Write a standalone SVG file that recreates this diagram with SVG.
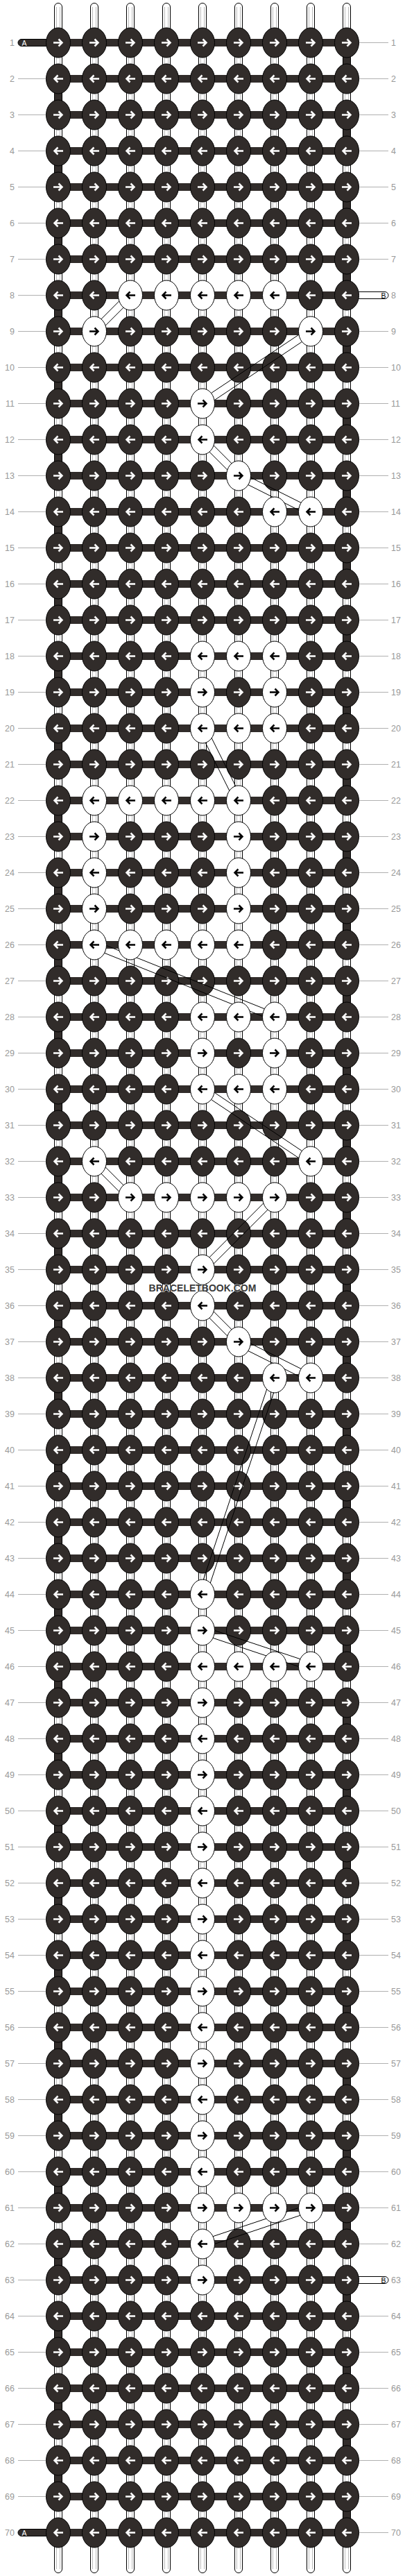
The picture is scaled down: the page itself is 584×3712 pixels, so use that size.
<svg xmlns="http://www.w3.org/2000/svg" width="584" height="3712" viewBox="0 0 584 3712">
<style>
.kd{fill:#312c2a;stroke:#000;stroke-width:1}
.kw{fill:#fff;stroke:#000;stroke-width:1}
.aw{fill:none;stroke:#fff;stroke-width:2.5}
.ab{fill:none;stroke:#000;stroke-width:2.5}
.lb{font-family:"Liberation Sans",Arial,sans-serif;font-size:12.5px;fill:#999}
.tg{font-family:"Liberation Sans",Arial,sans-serif;font-size:10.5px}
.bd{fill:none;stroke:#000;stroke-width:1}
.bs{fill:#fff;stroke:#000;stroke-width:1}
</style>
<defs>
<g id="dR"><ellipse class="kd" rx="17.5" ry="21.5"/><path class="aw" d="M-7,0H5M0.5,-5L5.5,0L0.5,5"/></g>
<g id="dL"><ellipse class="kd" rx="17.5" ry="21.5"/><path class="aw" d="M7,0H-5M-0.5,-5L-5.5,0L-0.5,5"/></g>
<g id="wR"><ellipse class="kw" rx="17.5" ry="21.5"/><path class="ab" d="M-7,0H5M0.5,-5L5.5,0L0.5,5"/></g>
<g id="wL"><ellipse class="kw" rx="17.5" ry="21.5"/><path class="ab" d="M7,0H-5M-0.5,-5L-5.5,0L-0.5,5"/></g>
</defs>
<rect width="584" height="3712" fill="#fff"/>
<g id="row-labels">
<g fill="none" stroke="#b0b0b0">
<path d="M46.25,113V3598" stroke-width="40.5" stroke-dasharray="1 51"/>
<path d="M538.75,61V374M538.75,477V3234M538.75,3337V3650" stroke-width="42.5" stroke-dasharray="1 51"/>
</g>
<g class="lb" text-anchor="end">
<text x="21" y="66">1</text><text x="21" y="118">2</text><text x="21" y="170">3</text><text x="21" y="222">4</text><text x="21" y="274">5</text><text x="21" y="326">6</text><text x="21" y="378">7</text><text x="21" y="430">8</text><text x="21" y="482">9</text><text x="21" y="534">10</text>
<text x="21" y="586">11</text><text x="21" y="638">12</text><text x="21" y="690">13</text><text x="21" y="742">14</text><text x="21" y="794">15</text><text x="21" y="846">16</text><text x="21" y="898">17</text><text x="21" y="950">18</text><text x="21" y="1002">19</text><text x="21" y="1054">20</text>
<text x="21" y="1106">21</text><text x="21" y="1158">22</text><text x="21" y="1210">23</text><text x="21" y="1262">24</text><text x="21" y="1314">25</text><text x="21" y="1366">26</text><text x="21" y="1418">27</text><text x="21" y="1470">28</text><text x="21" y="1522">29</text><text x="21" y="1574">30</text>
<text x="21" y="1626">31</text><text x="21" y="1678">32</text><text x="21" y="1730">33</text><text x="21" y="1782">34</text><text x="21" y="1834">35</text><text x="21" y="1886">36</text><text x="21" y="1938">37</text><text x="21" y="1990">38</text><text x="21" y="2042">39</text><text x="21" y="2094">40</text>
<text x="21" y="2146">41</text><text x="21" y="2198">42</text><text x="21" y="2250">43</text><text x="21" y="2302">44</text><text x="21" y="2354">45</text><text x="21" y="2406">46</text><text x="21" y="2458">47</text><text x="21" y="2510">48</text><text x="21" y="2562">49</text><text x="21" y="2614">50</text>
<text x="21" y="2666">51</text><text x="21" y="2718">52</text><text x="21" y="2770">53</text><text x="21" y="2822">54</text><text x="21" y="2874">55</text><text x="21" y="2926">56</text><text x="21" y="2978">57</text><text x="21" y="3030">58</text><text x="21" y="3082">59</text><text x="21" y="3134">60</text>
<text x="21" y="3186">61</text><text x="21" y="3238">62</text><text x="21" y="3290">63</text><text x="21" y="3342">64</text><text x="21" y="3394">65</text><text x="21" y="3446">66</text><text x="21" y="3498">67</text><text x="21" y="3550">68</text><text x="21" y="3602">69</text><text x="21" y="3654">70</text>
</g>
<g class="lb">
<text x="564" y="66">1</text><text x="564" y="118">2</text><text x="564" y="170">3</text><text x="564" y="222">4</text><text x="564" y="274">5</text><text x="564" y="326">6</text><text x="564" y="378">7</text><text x="564" y="430">8</text><text x="564" y="482">9</text><text x="564" y="534">10</text>
<text x="564" y="586">11</text><text x="564" y="638">12</text><text x="564" y="690">13</text><text x="564" y="742">14</text><text x="564" y="794">15</text><text x="564" y="846">16</text><text x="564" y="898">17</text><text x="564" y="950">18</text><text x="564" y="1002">19</text><text x="564" y="1054">20</text>
<text x="564" y="1106">21</text><text x="564" y="1158">22</text><text x="564" y="1210">23</text><text x="564" y="1262">24</text><text x="564" y="1314">25</text><text x="564" y="1366">26</text><text x="564" y="1418">27</text><text x="564" y="1470">28</text><text x="564" y="1522">29</text><text x="564" y="1574">30</text>
<text x="564" y="1626">31</text><text x="564" y="1678">32</text><text x="564" y="1730">33</text><text x="564" y="1782">34</text><text x="564" y="1834">35</text><text x="564" y="1886">36</text><text x="564" y="1938">37</text><text x="564" y="1990">38</text><text x="564" y="2042">39</text><text x="564" y="2094">40</text>
<text x="564" y="2146">41</text><text x="564" y="2198">42</text><text x="564" y="2250">43</text><text x="564" y="2302">44</text><text x="564" y="2354">45</text><text x="564" y="2406">46</text><text x="564" y="2458">47</text><text x="564" y="2510">48</text><text x="564" y="2562">49</text><text x="564" y="2614">50</text>
<text x="564" y="2666">51</text><text x="564" y="2718">52</text><text x="564" y="2770">53</text><text x="564" y="2822">54</text><text x="564" y="2874">55</text><text x="564" y="2926">56</text><text x="564" y="2978">57</text><text x="564" y="3030">58</text><text x="564" y="3082">59</text><text x="564" y="3134">60</text>
<text x="564" y="3186">61</text><text x="564" y="3238">62</text><text x="564" y="3290">63</text><text x="564" y="3342">64</text><text x="564" y="3394">65</text><text x="564" y="3446">66</text><text x="564" y="3498">67</text><text x="564" y="3550">68</text><text x="564" y="3602">69</text><text x="564" y="3654">70</text>
</g>
</g>
<g id="connectors">
<g id="base-strings">
<rect class="bs" x="78.5" y="4.5" width="11" height="3703" rx="5.5"/>
<rect class="bs" x="130.5" y="4.5" width="11" height="3703" rx="5.5"/>
<rect class="bs" x="182.5" y="4.5" width="11" height="3703" rx="5.5"/>
<rect class="bs" x="234.5" y="4.5" width="11" height="3703" rx="5.5"/>
<rect class="bs" x="286.5" y="4.5" width="11" height="3703" rx="5.5"/>
<rect class="bs" x="338.5" y="4.5" width="11" height="3703" rx="5.5"/>
<rect class="bs" x="390.5" y="4.5" width="11" height="3703" rx="5.5"/>
<rect class="bs" x="442.5" y="4.5" width="11" height="3703" rx="5.5"/>
<rect class="bs" x="494.5" y="4.5" width="11" height="3703" rx="5.5"/>
<path d="M81.5,10V3702M86.5,10V3702M133.5,10V3702M138.5,10V3702M185.5,10V3702M190.5,10V3702M237.5,10V3702M242.5,10V3702M289.5,10V3702M294.5,10V3702M341.5,10V3702M346.5,10V3702M393.5,10V3702M398.5,10V3702M445.5,10V3702M450.5,10V3702M497.5,10V3702M502.5,10V3702" fill="none" stroke="#bdbdbd" stroke-width="1"/>
</g>
<g id="string-A">
<path d="M500,61.5V3649.5M84,113.5V3597.5" fill="none" stroke="#000" stroke-width="12" stroke-dasharray="52 52"/>
<path d="M500,61.5V3649.5M84,113.5V3597.5" fill="none" stroke="#312c2a" stroke-width="10" stroke-dasharray="52 52"/>
<path d="M292,56V3655" fill="none" stroke="#312c2a" stroke-width="416" stroke-dasharray="11 41"/>
<path d="M31,56.5H86V66.5H31A5,5 0 0 1 31,56.5Z" class="kd"/>
<text x="31.5" y="65.5" class="tg" fill="#fff">A</text>
<path d="M31,3644.5H86V3654.5H31A5,5 0 0 1 31,3644.5Z" class="kd"/>
<text x="31.5" y="3653.5" class="tg" fill="#fff">A</text>
</g>
<g id="string-B-ends">
<path d="M498,420.5H555A5,5 0 0 1 555,430.5H498Z" class="kw"/>
<text x="549.5" y="429.5" class="tg" fill="#000">B</text>
<path d="M498,3280.5H555A5,5 0 0 1 555,3290.5H498Z" class="kw"/>
<text x="549.5" y="3289.5" class="tg" fill="#000">B</text>
</g>
</g>
<g id="dark-knots">
<g transform="translate(0,61.5)"><g id="n1-1"><use href="#dR" x="84"/></g><g id="n1-2"><use href="#dR" x="136"/></g><g id="n1-3"><use href="#dR" x="188"/></g><g id="n1-4"><use href="#dR" x="240"/></g><g id="n1-5"><use href="#dR" x="292"/></g><g id="n1-6"><use href="#dR" x="344"/></g><g id="n1-7"><use href="#dR" x="396"/></g><g id="n1-8"><use href="#dR" x="448"/></g><g id="n1-9"><use href="#dR" x="500"/></g></g>
<g transform="translate(0,113.5)"><g id="n2-1"><use href="#dL" x="84"/></g><g id="n2-2"><use href="#dL" x="136"/></g><g id="n2-3"><use href="#dL" x="188"/></g><g id="n2-4"><use href="#dL" x="240"/></g><g id="n2-5"><use href="#dL" x="292"/></g><g id="n2-6"><use href="#dL" x="344"/></g><g id="n2-7"><use href="#dL" x="396"/></g><g id="n2-8"><use href="#dL" x="448"/></g><g id="n2-9"><use href="#dL" x="500"/></g></g>
<g transform="translate(0,165.5)"><g id="n3-1"><use href="#dR" x="84"/></g><g id="n3-2"><use href="#dR" x="136"/></g><g id="n3-3"><use href="#dR" x="188"/></g><g id="n3-4"><use href="#dR" x="240"/></g><g id="n3-5"><use href="#dR" x="292"/></g><g id="n3-6"><use href="#dR" x="344"/></g><g id="n3-7"><use href="#dR" x="396"/></g><g id="n3-8"><use href="#dR" x="448"/></g><g id="n3-9"><use href="#dR" x="500"/></g></g>
<g transform="translate(0,217.5)"><g id="n4-1"><use href="#dL" x="84"/></g><g id="n4-2"><use href="#dL" x="136"/></g><g id="n4-3"><use href="#dL" x="188"/></g><g id="n4-4"><use href="#dL" x="240"/></g><g id="n4-5"><use href="#dL" x="292"/></g><g id="n4-6"><use href="#dL" x="344"/></g><g id="n4-7"><use href="#dL" x="396"/></g><g id="n4-8"><use href="#dL" x="448"/></g><g id="n4-9"><use href="#dL" x="500"/></g></g>
<g transform="translate(0,269.5)"><g id="n5-1"><use href="#dR" x="84"/></g><g id="n5-2"><use href="#dR" x="136"/></g><g id="n5-3"><use href="#dR" x="188"/></g><g id="n5-4"><use href="#dR" x="240"/></g><g id="n5-5"><use href="#dR" x="292"/></g><g id="n5-6"><use href="#dR" x="344"/></g><g id="n5-7"><use href="#dR" x="396"/></g><g id="n5-8"><use href="#dR" x="448"/></g><g id="n5-9"><use href="#dR" x="500"/></g></g>
<g transform="translate(0,321.5)"><g id="n6-1"><use href="#dL" x="84"/></g><g id="n6-2"><use href="#dL" x="136"/></g><g id="n6-3"><use href="#dL" x="188"/></g><g id="n6-4"><use href="#dL" x="240"/></g><g id="n6-5"><use href="#dL" x="292"/></g><g id="n6-6"><use href="#dL" x="344"/></g><g id="n6-7"><use href="#dL" x="396"/></g><g id="n6-8"><use href="#dL" x="448"/></g><g id="n6-9"><use href="#dL" x="500"/></g></g>
<g transform="translate(0,373.5)"><g id="n7-1"><use href="#dR" x="84"/></g><g id="n7-2"><use href="#dR" x="136"/></g><g id="n7-3"><use href="#dR" x="188"/></g><g id="n7-4"><use href="#dR" x="240"/></g><g id="n7-5"><use href="#dR" x="292"/></g><g id="n7-6"><use href="#dR" x="344"/></g><g id="n7-7"><use href="#dR" x="396"/></g><g id="n7-8"><use href="#dR" x="448"/></g><g id="n7-9"><use href="#dR" x="500"/></g></g>
<g transform="translate(0,425.5)"><g id="n8-1"><use href="#dL" x="84"/></g><g id="n8-2"><use href="#dL" x="136"/></g><g id="n8-8"><use href="#dL" x="448"/></g><g id="n8-9"><use href="#dL" x="500"/></g></g>
<g transform="translate(0,477.5)"><g id="n9-1"><use href="#dR" x="84"/></g><g id="n9-3"><use href="#dR" x="188"/></g><g id="n9-4"><use href="#dR" x="240"/></g><g id="n9-5"><use href="#dR" x="292"/></g><g id="n9-6"><use href="#dR" x="344"/></g><g id="n9-7"><use href="#dR" x="396"/></g><g id="n9-9"><use href="#dR" x="500"/></g></g>
<g transform="translate(0,529.5)"><g id="n10-1"><use href="#dL" x="84"/></g><g id="n10-2"><use href="#dL" x="136"/></g><g id="n10-3"><use href="#dL" x="188"/></g><g id="n10-4"><use href="#dL" x="240"/></g><g id="n10-5"><use href="#dL" x="292"/></g><g id="n10-6"><use href="#dL" x="344"/></g><g id="n10-7"><use href="#dL" x="396"/></g><g id="n10-8"><use href="#dL" x="448"/></g><g id="n10-9"><use href="#dL" x="500"/></g></g>
<g transform="translate(0,581.5)"><g id="n11-1"><use href="#dR" x="84"/></g><g id="n11-2"><use href="#dR" x="136"/></g><g id="n11-3"><use href="#dR" x="188"/></g><g id="n11-4"><use href="#dR" x="240"/></g><g id="n11-6"><use href="#dR" x="344"/></g><g id="n11-7"><use href="#dR" x="396"/></g><g id="n11-8"><use href="#dR" x="448"/></g><g id="n11-9"><use href="#dR" x="500"/></g></g>
<g transform="translate(0,633.5)"><g id="n12-1"><use href="#dL" x="84"/></g><g id="n12-2"><use href="#dL" x="136"/></g><g id="n12-3"><use href="#dL" x="188"/></g><g id="n12-4"><use href="#dL" x="240"/></g><g id="n12-6"><use href="#dL" x="344"/></g><g id="n12-7"><use href="#dL" x="396"/></g><g id="n12-8"><use href="#dL" x="448"/></g><g id="n12-9"><use href="#dL" x="500"/></g></g>
<g transform="translate(0,685.5)"><g id="n13-1"><use href="#dR" x="84"/></g><g id="n13-2"><use href="#dR" x="136"/></g><g id="n13-3"><use href="#dR" x="188"/></g><g id="n13-4"><use href="#dR" x="240"/></g><g id="n13-5"><use href="#dR" x="292"/></g><g id="n13-7"><use href="#dR" x="396"/></g><g id="n13-8"><use href="#dR" x="448"/></g><g id="n13-9"><use href="#dR" x="500"/></g></g>
<g transform="translate(0,737.5)"><g id="n14-1"><use href="#dL" x="84"/></g><g id="n14-2"><use href="#dL" x="136"/></g><g id="n14-3"><use href="#dL" x="188"/></g><g id="n14-4"><use href="#dL" x="240"/></g><g id="n14-5"><use href="#dL" x="292"/></g><g id="n14-6"><use href="#dL" x="344"/></g><g id="n14-9"><use href="#dL" x="500"/></g></g>
<g transform="translate(0,789.5)"><g id="n15-1"><use href="#dR" x="84"/></g><g id="n15-2"><use href="#dR" x="136"/></g><g id="n15-3"><use href="#dR" x="188"/></g><g id="n15-4"><use href="#dR" x="240"/></g><g id="n15-5"><use href="#dR" x="292"/></g><g id="n15-6"><use href="#dR" x="344"/></g><g id="n15-7"><use href="#dR" x="396"/></g><g id="n15-8"><use href="#dR" x="448"/></g><g id="n15-9"><use href="#dR" x="500"/></g></g>
<g transform="translate(0,841.5)"><g id="n16-1"><use href="#dL" x="84"/></g><g id="n16-2"><use href="#dL" x="136"/></g><g id="n16-3"><use href="#dL" x="188"/></g><g id="n16-4"><use href="#dL" x="240"/></g><g id="n16-5"><use href="#dL" x="292"/></g><g id="n16-6"><use href="#dL" x="344"/></g><g id="n16-7"><use href="#dL" x="396"/></g><g id="n16-8"><use href="#dL" x="448"/></g><g id="n16-9"><use href="#dL" x="500"/></g></g>
<g transform="translate(0,893.5)"><g id="n17-1"><use href="#dR" x="84"/></g><g id="n17-2"><use href="#dR" x="136"/></g><g id="n17-3"><use href="#dR" x="188"/></g><g id="n17-4"><use href="#dR" x="240"/></g><g id="n17-5"><use href="#dR" x="292"/></g><g id="n17-6"><use href="#dR" x="344"/></g><g id="n17-7"><use href="#dR" x="396"/></g><g id="n17-8"><use href="#dR" x="448"/></g><g id="n17-9"><use href="#dR" x="500"/></g></g>
<g transform="translate(0,945.5)"><g id="n18-1"><use href="#dL" x="84"/></g><g id="n18-2"><use href="#dL" x="136"/></g><g id="n18-3"><use href="#dL" x="188"/></g><g id="n18-4"><use href="#dL" x="240"/></g><g id="n18-8"><use href="#dL" x="448"/></g><g id="n18-9"><use href="#dL" x="500"/></g></g>
<g transform="translate(0,997.5)"><g id="n19-1"><use href="#dR" x="84"/></g><g id="n19-2"><use href="#dR" x="136"/></g><g id="n19-3"><use href="#dR" x="188"/></g><g id="n19-4"><use href="#dR" x="240"/></g><g id="n19-6"><use href="#dR" x="344"/></g><g id="n19-8"><use href="#dR" x="448"/></g><g id="n19-9"><use href="#dR" x="500"/></g></g>
<g transform="translate(0,1049.5)"><g id="n20-1"><use href="#dL" x="84"/></g><g id="n20-2"><use href="#dL" x="136"/></g><g id="n20-3"><use href="#dL" x="188"/></g><g id="n20-4"><use href="#dL" x="240"/></g><g id="n20-8"><use href="#dL" x="448"/></g><g id="n20-9"><use href="#dL" x="500"/></g></g>
<g transform="translate(0,1101.5)"><g id="n21-1"><use href="#dR" x="84"/></g><g id="n21-2"><use href="#dR" x="136"/></g><g id="n21-3"><use href="#dR" x="188"/></g><g id="n21-4"><use href="#dR" x="240"/></g><g id="n21-5"><use href="#dR" x="292"/></g><g id="n21-6"><use href="#dR" x="344"/></g><g id="n21-7"><use href="#dR" x="396"/></g><g id="n21-8"><use href="#dR" x="448"/></g><g id="n21-9"><use href="#dR" x="500"/></g></g>
<g transform="translate(0,1153.5)"><g id="n22-1"><use href="#dL" x="84"/></g><g id="n22-7"><use href="#dL" x="396"/></g><g id="n22-8"><use href="#dL" x="448"/></g><g id="n22-9"><use href="#dL" x="500"/></g></g>
<g transform="translate(0,1205.5)"><g id="n23-1"><use href="#dR" x="84"/></g><g id="n23-3"><use href="#dR" x="188"/></g><g id="n23-4"><use href="#dR" x="240"/></g><g id="n23-5"><use href="#dR" x="292"/></g><g id="n23-7"><use href="#dR" x="396"/></g><g id="n23-8"><use href="#dR" x="448"/></g><g id="n23-9"><use href="#dR" x="500"/></g></g>
<g transform="translate(0,1257.5)"><g id="n24-1"><use href="#dL" x="84"/></g><g id="n24-3"><use href="#dL" x="188"/></g><g id="n24-4"><use href="#dL" x="240"/></g><g id="n24-5"><use href="#dL" x="292"/></g><g id="n24-7"><use href="#dL" x="396"/></g><g id="n24-8"><use href="#dL" x="448"/></g><g id="n24-9"><use href="#dL" x="500"/></g></g>
<g transform="translate(0,1309.5)"><g id="n25-1"><use href="#dR" x="84"/></g><g id="n25-3"><use href="#dR" x="188"/></g><g id="n25-4"><use href="#dR" x="240"/></g><g id="n25-5"><use href="#dR" x="292"/></g><g id="n25-7"><use href="#dR" x="396"/></g><g id="n25-8"><use href="#dR" x="448"/></g><g id="n25-9"><use href="#dR" x="500"/></g></g>
<g transform="translate(0,1361.5)"><g id="n26-1"><use href="#dL" x="84"/></g><g id="n26-7"><use href="#dL" x="396"/></g><g id="n26-8"><use href="#dL" x="448"/></g><g id="n26-9"><use href="#dL" x="500"/></g></g>
<g transform="translate(0,1413.5)"><g id="n27-1"><use href="#dR" x="84"/></g><g id="n27-2"><use href="#dR" x="136"/></g><g id="n27-3"><use href="#dR" x="188"/></g><g id="n27-4"><use href="#dR" x="240"/></g><g id="n27-5"><use href="#dR" x="292"/></g><g id="n27-6"><use href="#dR" x="344"/></g><g id="n27-7"><use href="#dR" x="396"/></g><g id="n27-8"><use href="#dR" x="448"/></g><g id="n27-9"><use href="#dR" x="500"/></g></g>
<g transform="translate(0,1465.5)"><g id="n28-1"><use href="#dL" x="84"/></g><g id="n28-2"><use href="#dL" x="136"/></g><g id="n28-3"><use href="#dL" x="188"/></g><g id="n28-4"><use href="#dL" x="240"/></g><g id="n28-8"><use href="#dL" x="448"/></g><g id="n28-9"><use href="#dL" x="500"/></g></g>
<g transform="translate(0,1517.5)"><g id="n29-1"><use href="#dR" x="84"/></g><g id="n29-2"><use href="#dR" x="136"/></g><g id="n29-3"><use href="#dR" x="188"/></g><g id="n29-4"><use href="#dR" x="240"/></g><g id="n29-6"><use href="#dR" x="344"/></g><g id="n29-8"><use href="#dR" x="448"/></g><g id="n29-9"><use href="#dR" x="500"/></g></g>
<g transform="translate(0,1569.5)"><g id="n30-1"><use href="#dL" x="84"/></g><g id="n30-2"><use href="#dL" x="136"/></g><g id="n30-3"><use href="#dL" x="188"/></g><g id="n30-4"><use href="#dL" x="240"/></g><g id="n30-8"><use href="#dL" x="448"/></g><g id="n30-9"><use href="#dL" x="500"/></g></g>
<g transform="translate(0,1621.5)"><g id="n31-1"><use href="#dR" x="84"/></g><g id="n31-2"><use href="#dR" x="136"/></g><g id="n31-3"><use href="#dR" x="188"/></g><g id="n31-4"><use href="#dR" x="240"/></g><g id="n31-5"><use href="#dR" x="292"/></g><g id="n31-6"><use href="#dR" x="344"/></g><g id="n31-7"><use href="#dR" x="396"/></g><g id="n31-8"><use href="#dR" x="448"/></g><g id="n31-9"><use href="#dR" x="500"/></g></g>
<g transform="translate(0,1673.5)"><g id="n32-1"><use href="#dL" x="84"/></g><g id="n32-3"><use href="#dL" x="188"/></g><g id="n32-4"><use href="#dL" x="240"/></g><g id="n32-5"><use href="#dL" x="292"/></g><g id="n32-6"><use href="#dL" x="344"/></g><g id="n32-7"><use href="#dL" x="396"/></g><g id="n32-9"><use href="#dL" x="500"/></g></g>
<g transform="translate(0,1725.5)"><g id="n33-1"><use href="#dR" x="84"/></g><g id="n33-2"><use href="#dR" x="136"/></g><g id="n33-8"><use href="#dR" x="448"/></g><g id="n33-9"><use href="#dR" x="500"/></g></g>
<g transform="translate(0,1777.5)"><g id="n34-1"><use href="#dL" x="84"/></g><g id="n34-2"><use href="#dL" x="136"/></g><g id="n34-3"><use href="#dL" x="188"/></g><g id="n34-4"><use href="#dL" x="240"/></g><g id="n34-5"><use href="#dL" x="292"/></g><g id="n34-6"><use href="#dL" x="344"/></g><g id="n34-7"><use href="#dL" x="396"/></g><g id="n34-8"><use href="#dL" x="448"/></g><g id="n34-9"><use href="#dL" x="500"/></g></g>
<g transform="translate(0,1829.5)"><g id="n35-1"><use href="#dR" x="84"/></g><g id="n35-2"><use href="#dR" x="136"/></g><g id="n35-3"><use href="#dR" x="188"/></g><g id="n35-4"><use href="#dR" x="240"/></g><g id="n35-6"><use href="#dR" x="344"/></g><g id="n35-7"><use href="#dR" x="396"/></g><g id="n35-8"><use href="#dR" x="448"/></g><g id="n35-9"><use href="#dR" x="500"/></g></g>
<g transform="translate(0,1881.5)"><g id="n36-1"><use href="#dL" x="84"/></g><g id="n36-2"><use href="#dL" x="136"/></g><g id="n36-3"><use href="#dL" x="188"/></g><g id="n36-4"><use href="#dL" x="240"/></g><g id="n36-6"><use href="#dL" x="344"/></g><g id="n36-7"><use href="#dL" x="396"/></g><g id="n36-8"><use href="#dL" x="448"/></g><g id="n36-9"><use href="#dL" x="500"/></g></g>
<g transform="translate(0,1933.5)"><g id="n37-1"><use href="#dR" x="84"/></g><g id="n37-2"><use href="#dR" x="136"/></g><g id="n37-3"><use href="#dR" x="188"/></g><g id="n37-4"><use href="#dR" x="240"/></g><g id="n37-5"><use href="#dR" x="292"/></g><g id="n37-7"><use href="#dR" x="396"/></g><g id="n37-8"><use href="#dR" x="448"/></g><g id="n37-9"><use href="#dR" x="500"/></g></g>
<g transform="translate(0,1985.5)"><g id="n38-1"><use href="#dL" x="84"/></g><g id="n38-2"><use href="#dL" x="136"/></g><g id="n38-3"><use href="#dL" x="188"/></g><g id="n38-4"><use href="#dL" x="240"/></g><g id="n38-5"><use href="#dL" x="292"/></g><g id="n38-6"><use href="#dL" x="344"/></g><g id="n38-9"><use href="#dL" x="500"/></g></g>
<g transform="translate(0,2037.5)"><g id="n39-1"><use href="#dR" x="84"/></g><g id="n39-2"><use href="#dR" x="136"/></g><g id="n39-3"><use href="#dR" x="188"/></g><g id="n39-4"><use href="#dR" x="240"/></g><g id="n39-5"><use href="#dR" x="292"/></g><g id="n39-6"><use href="#dR" x="344"/></g><g id="n39-7"><use href="#dR" x="396"/></g><g id="n39-8"><use href="#dR" x="448"/></g><g id="n39-9"><use href="#dR" x="500"/></g></g>
<g transform="translate(0,2089.5)"><g id="n40-1"><use href="#dL" x="84"/></g><g id="n40-2"><use href="#dL" x="136"/></g><g id="n40-3"><use href="#dL" x="188"/></g><g id="n40-4"><use href="#dL" x="240"/></g><g id="n40-5"><use href="#dL" x="292"/></g><g id="n40-6"><use href="#dL" x="344"/></g><g id="n40-7"><use href="#dL" x="396"/></g><g id="n40-8"><use href="#dL" x="448"/></g><g id="n40-9"><use href="#dL" x="500"/></g></g>
<g transform="translate(0,2141.5)"><g id="n41-1"><use href="#dR" x="84"/></g><g id="n41-2"><use href="#dR" x="136"/></g><g id="n41-3"><use href="#dR" x="188"/></g><g id="n41-4"><use href="#dR" x="240"/></g><g id="n41-5"><use href="#dR" x="292"/></g><g id="n41-6"><use href="#dR" x="344"/></g><g id="n41-7"><use href="#dR" x="396"/></g><g id="n41-8"><use href="#dR" x="448"/></g><g id="n41-9"><use href="#dR" x="500"/></g></g>
<g transform="translate(0,2193.5)"><g id="n42-1"><use href="#dL" x="84"/></g><g id="n42-2"><use href="#dL" x="136"/></g><g id="n42-3"><use href="#dL" x="188"/></g><g id="n42-4"><use href="#dL" x="240"/></g><g id="n42-5"><use href="#dL" x="292"/></g><g id="n42-6"><use href="#dL" x="344"/></g><g id="n42-7"><use href="#dL" x="396"/></g><g id="n42-8"><use href="#dL" x="448"/></g><g id="n42-9"><use href="#dL" x="500"/></g></g>
<g transform="translate(0,2245.5)"><g id="n43-1"><use href="#dR" x="84"/></g><g id="n43-2"><use href="#dR" x="136"/></g><g id="n43-3"><use href="#dR" x="188"/></g><g id="n43-4"><use href="#dR" x="240"/></g><g id="n43-5"><use href="#dR" x="292"/></g><g id="n43-6"><use href="#dR" x="344"/></g><g id="n43-7"><use href="#dR" x="396"/></g><g id="n43-8"><use href="#dR" x="448"/></g><g id="n43-9"><use href="#dR" x="500"/></g></g>
<g transform="translate(0,2297.5)"><g id="n44-1"><use href="#dL" x="84"/></g><g id="n44-2"><use href="#dL" x="136"/></g><g id="n44-3"><use href="#dL" x="188"/></g><g id="n44-4"><use href="#dL" x="240"/></g><g id="n44-6"><use href="#dL" x="344"/></g><g id="n44-7"><use href="#dL" x="396"/></g><g id="n44-8"><use href="#dL" x="448"/></g><g id="n44-9"><use href="#dL" x="500"/></g></g>
<g transform="translate(0,2349.5)"><g id="n45-1"><use href="#dR" x="84"/></g><g id="n45-2"><use href="#dR" x="136"/></g><g id="n45-3"><use href="#dR" x="188"/></g><g id="n45-4"><use href="#dR" x="240"/></g><g id="n45-6"><use href="#dR" x="344"/></g><g id="n45-7"><use href="#dR" x="396"/></g><g id="n45-8"><use href="#dR" x="448"/></g><g id="n45-9"><use href="#dR" x="500"/></g></g>
<g transform="translate(0,2401.5)"><g id="n46-1"><use href="#dL" x="84"/></g><g id="n46-2"><use href="#dL" x="136"/></g><g id="n46-3"><use href="#dL" x="188"/></g><g id="n46-4"><use href="#dL" x="240"/></g><g id="n46-9"><use href="#dL" x="500"/></g></g>
<g transform="translate(0,2453.5)"><g id="n47-1"><use href="#dR" x="84"/></g><g id="n47-2"><use href="#dR" x="136"/></g><g id="n47-3"><use href="#dR" x="188"/></g><g id="n47-4"><use href="#dR" x="240"/></g><g id="n47-6"><use href="#dR" x="344"/></g><g id="n47-7"><use href="#dR" x="396"/></g><g id="n47-8"><use href="#dR" x="448"/></g><g id="n47-9"><use href="#dR" x="500"/></g></g>
<g transform="translate(0,2505.5)"><g id="n48-1"><use href="#dL" x="84"/></g><g id="n48-2"><use href="#dL" x="136"/></g><g id="n48-3"><use href="#dL" x="188"/></g><g id="n48-4"><use href="#dL" x="240"/></g><g id="n48-6"><use href="#dL" x="344"/></g><g id="n48-7"><use href="#dL" x="396"/></g><g id="n48-8"><use href="#dL" x="448"/></g><g id="n48-9"><use href="#dL" x="500"/></g></g>
<g transform="translate(0,2557.5)"><g id="n49-1"><use href="#dR" x="84"/></g><g id="n49-2"><use href="#dR" x="136"/></g><g id="n49-3"><use href="#dR" x="188"/></g><g id="n49-4"><use href="#dR" x="240"/></g><g id="n49-6"><use href="#dR" x="344"/></g><g id="n49-7"><use href="#dR" x="396"/></g><g id="n49-8"><use href="#dR" x="448"/></g><g id="n49-9"><use href="#dR" x="500"/></g></g>
<g transform="translate(0,2609.5)"><g id="n50-1"><use href="#dL" x="84"/></g><g id="n50-2"><use href="#dL" x="136"/></g><g id="n50-3"><use href="#dL" x="188"/></g><g id="n50-4"><use href="#dL" x="240"/></g><g id="n50-6"><use href="#dL" x="344"/></g><g id="n50-7"><use href="#dL" x="396"/></g><g id="n50-8"><use href="#dL" x="448"/></g><g id="n50-9"><use href="#dL" x="500"/></g></g>
<g transform="translate(0,2661.5)"><g id="n51-1"><use href="#dR" x="84"/></g><g id="n51-2"><use href="#dR" x="136"/></g><g id="n51-3"><use href="#dR" x="188"/></g><g id="n51-4"><use href="#dR" x="240"/></g><g id="n51-6"><use href="#dR" x="344"/></g><g id="n51-7"><use href="#dR" x="396"/></g><g id="n51-8"><use href="#dR" x="448"/></g><g id="n51-9"><use href="#dR" x="500"/></g></g>
<g transform="translate(0,2713.5)"><g id="n52-1"><use href="#dL" x="84"/></g><g id="n52-2"><use href="#dL" x="136"/></g><g id="n52-3"><use href="#dL" x="188"/></g><g id="n52-4"><use href="#dL" x="240"/></g><g id="n52-6"><use href="#dL" x="344"/></g><g id="n52-7"><use href="#dL" x="396"/></g><g id="n52-8"><use href="#dL" x="448"/></g><g id="n52-9"><use href="#dL" x="500"/></g></g>
<g transform="translate(0,2765.5)"><g id="n53-1"><use href="#dR" x="84"/></g><g id="n53-2"><use href="#dR" x="136"/></g><g id="n53-3"><use href="#dR" x="188"/></g><g id="n53-4"><use href="#dR" x="240"/></g><g id="n53-6"><use href="#dR" x="344"/></g><g id="n53-7"><use href="#dR" x="396"/></g><g id="n53-8"><use href="#dR" x="448"/></g><g id="n53-9"><use href="#dR" x="500"/></g></g>
<g transform="translate(0,2817.5)"><g id="n54-1"><use href="#dL" x="84"/></g><g id="n54-2"><use href="#dL" x="136"/></g><g id="n54-3"><use href="#dL" x="188"/></g><g id="n54-4"><use href="#dL" x="240"/></g><g id="n54-6"><use href="#dL" x="344"/></g><g id="n54-7"><use href="#dL" x="396"/></g><g id="n54-8"><use href="#dL" x="448"/></g><g id="n54-9"><use href="#dL" x="500"/></g></g>
<g transform="translate(0,2869.5)"><g id="n55-1"><use href="#dR" x="84"/></g><g id="n55-2"><use href="#dR" x="136"/></g><g id="n55-3"><use href="#dR" x="188"/></g><g id="n55-4"><use href="#dR" x="240"/></g><g id="n55-6"><use href="#dR" x="344"/></g><g id="n55-7"><use href="#dR" x="396"/></g><g id="n55-8"><use href="#dR" x="448"/></g><g id="n55-9"><use href="#dR" x="500"/></g></g>
<g transform="translate(0,2921.5)"><g id="n56-1"><use href="#dL" x="84"/></g><g id="n56-2"><use href="#dL" x="136"/></g><g id="n56-3"><use href="#dL" x="188"/></g><g id="n56-4"><use href="#dL" x="240"/></g><g id="n56-6"><use href="#dL" x="344"/></g><g id="n56-7"><use href="#dL" x="396"/></g><g id="n56-8"><use href="#dL" x="448"/></g><g id="n56-9"><use href="#dL" x="500"/></g></g>
<g transform="translate(0,2973.5)"><g id="n57-1"><use href="#dR" x="84"/></g><g id="n57-2"><use href="#dR" x="136"/></g><g id="n57-3"><use href="#dR" x="188"/></g><g id="n57-4"><use href="#dR" x="240"/></g><g id="n57-6"><use href="#dR" x="344"/></g><g id="n57-7"><use href="#dR" x="396"/></g><g id="n57-8"><use href="#dR" x="448"/></g><g id="n57-9"><use href="#dR" x="500"/></g></g>
<g transform="translate(0,3025.5)"><g id="n58-1"><use href="#dL" x="84"/></g><g id="n58-2"><use href="#dL" x="136"/></g><g id="n58-3"><use href="#dL" x="188"/></g><g id="n58-4"><use href="#dL" x="240"/></g><g id="n58-6"><use href="#dL" x="344"/></g><g id="n58-7"><use href="#dL" x="396"/></g><g id="n58-8"><use href="#dL" x="448"/></g><g id="n58-9"><use href="#dL" x="500"/></g></g>
<g transform="translate(0,3077.5)"><g id="n59-1"><use href="#dR" x="84"/></g><g id="n59-2"><use href="#dR" x="136"/></g><g id="n59-3"><use href="#dR" x="188"/></g><g id="n59-4"><use href="#dR" x="240"/></g><g id="n59-6"><use href="#dR" x="344"/></g><g id="n59-7"><use href="#dR" x="396"/></g><g id="n59-8"><use href="#dR" x="448"/></g><g id="n59-9"><use href="#dR" x="500"/></g></g>
<g transform="translate(0,3129.5)"><g id="n60-1"><use href="#dL" x="84"/></g><g id="n60-2"><use href="#dL" x="136"/></g><g id="n60-3"><use href="#dL" x="188"/></g><g id="n60-4"><use href="#dL" x="240"/></g><g id="n60-6"><use href="#dL" x="344"/></g><g id="n60-7"><use href="#dL" x="396"/></g><g id="n60-8"><use href="#dL" x="448"/></g><g id="n60-9"><use href="#dL" x="500"/></g></g>
<g transform="translate(0,3181.5)"><g id="n61-1"><use href="#dR" x="84"/></g><g id="n61-2"><use href="#dR" x="136"/></g><g id="n61-3"><use href="#dR" x="188"/></g><g id="n61-4"><use href="#dR" x="240"/></g><g id="n61-9"><use href="#dR" x="500"/></g></g>
<g transform="translate(0,3233.5)"><g id="n62-1"><use href="#dL" x="84"/></g><g id="n62-2"><use href="#dL" x="136"/></g><g id="n62-3"><use href="#dL" x="188"/></g><g id="n62-4"><use href="#dL" x="240"/></g><g id="n62-6"><use href="#dL" x="344"/></g><g id="n62-7"><use href="#dL" x="396"/></g><g id="n62-8"><use href="#dL" x="448"/></g><g id="n62-9"><use href="#dL" x="500"/></g></g>
<g transform="translate(0,3285.5)"><g id="n63-1"><use href="#dR" x="84"/></g><g id="n63-2"><use href="#dR" x="136"/></g><g id="n63-3"><use href="#dR" x="188"/></g><g id="n63-4"><use href="#dR" x="240"/></g><g id="n63-6"><use href="#dR" x="344"/></g><g id="n63-7"><use href="#dR" x="396"/></g><g id="n63-8"><use href="#dR" x="448"/></g><g id="n63-9"><use href="#dR" x="500"/></g></g>
<g transform="translate(0,3337.5)"><g id="n64-1"><use href="#dL" x="84"/></g><g id="n64-2"><use href="#dL" x="136"/></g><g id="n64-3"><use href="#dL" x="188"/></g><g id="n64-4"><use href="#dL" x="240"/></g><g id="n64-5"><use href="#dL" x="292"/></g><g id="n64-6"><use href="#dL" x="344"/></g><g id="n64-7"><use href="#dL" x="396"/></g><g id="n64-8"><use href="#dL" x="448"/></g><g id="n64-9"><use href="#dL" x="500"/></g></g>
<g transform="translate(0,3389.5)"><g id="n65-1"><use href="#dR" x="84"/></g><g id="n65-2"><use href="#dR" x="136"/></g><g id="n65-3"><use href="#dR" x="188"/></g><g id="n65-4"><use href="#dR" x="240"/></g><g id="n65-5"><use href="#dR" x="292"/></g><g id="n65-6"><use href="#dR" x="344"/></g><g id="n65-7"><use href="#dR" x="396"/></g><g id="n65-8"><use href="#dR" x="448"/></g><g id="n65-9"><use href="#dR" x="500"/></g></g>
<g transform="translate(0,3441.5)"><g id="n66-1"><use href="#dL" x="84"/></g><g id="n66-2"><use href="#dL" x="136"/></g><g id="n66-3"><use href="#dL" x="188"/></g><g id="n66-4"><use href="#dL" x="240"/></g><g id="n66-5"><use href="#dL" x="292"/></g><g id="n66-6"><use href="#dL" x="344"/></g><g id="n66-7"><use href="#dL" x="396"/></g><g id="n66-8"><use href="#dL" x="448"/></g><g id="n66-9"><use href="#dL" x="500"/></g></g>
<g transform="translate(0,3493.5)"><g id="n67-1"><use href="#dR" x="84"/></g><g id="n67-2"><use href="#dR" x="136"/></g><g id="n67-3"><use href="#dR" x="188"/></g><g id="n67-4"><use href="#dR" x="240"/></g><g id="n67-5"><use href="#dR" x="292"/></g><g id="n67-6"><use href="#dR" x="344"/></g><g id="n67-7"><use href="#dR" x="396"/></g><g id="n67-8"><use href="#dR" x="448"/></g><g id="n67-9"><use href="#dR" x="500"/></g></g>
<g transform="translate(0,3545.5)"><g id="n68-1"><use href="#dL" x="84"/></g><g id="n68-2"><use href="#dL" x="136"/></g><g id="n68-3"><use href="#dL" x="188"/></g><g id="n68-4"><use href="#dL" x="240"/></g><g id="n68-5"><use href="#dL" x="292"/></g><g id="n68-6"><use href="#dL" x="344"/></g><g id="n68-7"><use href="#dL" x="396"/></g><g id="n68-8"><use href="#dL" x="448"/></g><g id="n68-9"><use href="#dL" x="500"/></g></g>
<g transform="translate(0,3597.5)"><g id="n69-1"><use href="#dR" x="84"/></g><g id="n69-2"><use href="#dR" x="136"/></g><g id="n69-3"><use href="#dR" x="188"/></g><g id="n69-4"><use href="#dR" x="240"/></g><g id="n69-5"><use href="#dR" x="292"/></g><g id="n69-6"><use href="#dR" x="344"/></g><g id="n69-7"><use href="#dR" x="396"/></g><g id="n69-8"><use href="#dR" x="448"/></g><g id="n69-9"><use href="#dR" x="500"/></g></g>
<g transform="translate(0,3649.5)"><g id="n70-1"><use href="#dL" x="84"/></g><g id="n70-2"><use href="#dL" x="136"/></g><g id="n70-3"><use href="#dL" x="188"/></g><g id="n70-4"><use href="#dL" x="240"/></g><g id="n70-5"><use href="#dL" x="292"/></g><g id="n70-6"><use href="#dL" x="344"/></g><g id="n70-7"><use href="#dL" x="396"/></g><g id="n70-8"><use href="#dL" x="448"/></g><g id="n70-9"><use href="#dL" x="500"/></g></g>
</g>
<g id="string-B-path" class="bd">
<path d="M184.11,421.61L132.11,473.61M191.89,429.39L139.89,481.39"/>
<path d="M444.95,472.92L288.95,576.92M451.05,482.08L295.05,586.08"/>
<path d="M288.11,637.39L340.11,689.39M295.89,629.61L347.89,681.61"/>
<path d="M341.54,690.42L445.54,742.42M346.46,680.58L450.46,732.58"/>
<path d="M287.08,1051.96L339.08,1155.96M296.92,1047.04L348.92,1151.04"/>
<path d="M133.96,1366.61L393.96,1470.61M138.04,1356.39L398.04,1460.39"/>
<path d="M288.95,1574.08L444.95,1678.08M295.05,1564.92L451.05,1668.92"/>
<path d="M132.11,1677.39L184.11,1729.39M139.89,1669.61L191.89,1721.61"/>
<path d="M392.11,1721.61L288.11,1825.61M399.89,1729.39L295.89,1833.39"/>
<path d="M288.11,1885.39L340.11,1937.39M295.89,1877.61L347.89,1929.61"/>
<path d="M341.54,1938.42L445.54,1990.42M346.46,1928.58L450.46,1980.58"/>
<path d="M390.78,1983.76L286.78,2295.76M401.22,1987.24L297.22,2299.24"/>
<path d="M290.26,2354.72L446.26,2406.72M293.74,2344.28L449.74,2396.28"/>
<path d="M446.26,3176.28L290.26,3228.28M449.74,3186.72L293.74,3238.72"/>
</g>
<g id="white-knots">
<g transform="translate(0,425.5)"><g id="n8-3"><use href="#wL" x="188"/></g><g id="n8-4"><use href="#wL" x="240"/></g><g id="n8-5"><use href="#wL" x="292"/></g><g id="n8-6"><use href="#wL" x="344"/></g><g id="n8-7"><use href="#wL" x="396"/></g></g>
<g transform="translate(0,477.5)"><g id="n9-2"><use href="#wR" x="136"/></g><g id="n9-8"><use href="#wR" x="448"/></g></g>
<g transform="translate(0,581.5)"><g id="n11-5"><use href="#wR" x="292"/></g></g>
<g transform="translate(0,633.5)"><g id="n12-5"><use href="#wL" x="292"/></g></g>
<g transform="translate(0,685.5)"><g id="n13-6"><use href="#wR" x="344"/></g></g>
<g transform="translate(0,737.5)"><g id="n14-7"><use href="#wL" x="396"/></g><g id="n14-8"><use href="#wL" x="448"/></g></g>
<g transform="translate(0,945.5)"><g id="n18-5"><use href="#wL" x="292"/></g><g id="n18-6"><use href="#wL" x="344"/></g><g id="n18-7"><use href="#wL" x="396"/></g></g>
<g transform="translate(0,997.5)"><g id="n19-5"><use href="#wR" x="292"/></g><g id="n19-7"><use href="#wR" x="396"/></g></g>
<g transform="translate(0,1049.5)"><g id="n20-5"><use href="#wL" x="292"/></g><g id="n20-6"><use href="#wL" x="344"/></g><g id="n20-7"><use href="#wL" x="396"/></g></g>
<g transform="translate(0,1153.5)"><g id="n22-2"><use href="#wL" x="136"/></g><g id="n22-3"><use href="#wL" x="188"/></g><g id="n22-4"><use href="#wL" x="240"/></g><g id="n22-5"><use href="#wL" x="292"/></g><g id="n22-6"><use href="#wL" x="344"/></g></g>
<g transform="translate(0,1205.5)"><g id="n23-2"><use href="#wR" x="136"/></g><g id="n23-6"><use href="#wR" x="344"/></g></g>
<g transform="translate(0,1257.5)"><g id="n24-2"><use href="#wL" x="136"/></g><g id="n24-6"><use href="#wL" x="344"/></g></g>
<g transform="translate(0,1309.5)"><g id="n25-2"><use href="#wR" x="136"/></g><g id="n25-6"><use href="#wR" x="344"/></g></g>
<g transform="translate(0,1361.5)"><g id="n26-2"><use href="#wL" x="136"/></g><g id="n26-3"><use href="#wL" x="188"/></g><g id="n26-4"><use href="#wL" x="240"/></g><g id="n26-5"><use href="#wL" x="292"/></g><g id="n26-6"><use href="#wL" x="344"/></g></g>
<g transform="translate(0,1465.5)"><g id="n28-5"><use href="#wL" x="292"/></g><g id="n28-6"><use href="#wL" x="344"/></g><g id="n28-7"><use href="#wL" x="396"/></g></g>
<g transform="translate(0,1517.5)"><g id="n29-5"><use href="#wR" x="292"/></g><g id="n29-7"><use href="#wR" x="396"/></g></g>
<g transform="translate(0,1569.5)"><g id="n30-5"><use href="#wL" x="292"/></g><g id="n30-6"><use href="#wL" x="344"/></g><g id="n30-7"><use href="#wL" x="396"/></g></g>
<g transform="translate(0,1673.5)"><g id="n32-2"><use href="#wL" x="136"/></g><g id="n32-8"><use href="#wL" x="448"/></g></g>
<g transform="translate(0,1725.5)"><g id="n33-3"><use href="#wR" x="188"/></g><g id="n33-4"><use href="#wR" x="240"/></g><g id="n33-5"><use href="#wR" x="292"/></g><g id="n33-6"><use href="#wR" x="344"/></g><g id="n33-7"><use href="#wR" x="396"/></g></g>
<g transform="translate(0,1829.5)"><g id="n35-5"><use href="#wR" x="292"/></g></g>
<g transform="translate(0,1881.5)"><g id="n36-5"><use href="#wL" x="292"/></g></g>
<g transform="translate(0,1933.5)"><g id="n37-6"><use href="#wR" x="344"/></g></g>
<g transform="translate(0,1985.5)"><g id="n38-7"><use href="#wL" x="396"/></g><g id="n38-8"><use href="#wL" x="448"/></g></g>
<g transform="translate(0,2297.5)"><g id="n44-5"><use href="#wL" x="292"/></g></g>
<g transform="translate(0,2349.5)"><g id="n45-5"><use href="#wR" x="292"/></g></g>
<g transform="translate(0,2401.5)"><g id="n46-5"><use href="#wL" x="292"/></g><g id="n46-6"><use href="#wL" x="344"/></g><g id="n46-7"><use href="#wL" x="396"/></g><g id="n46-8"><use href="#wL" x="448"/></g></g>
<g id="n47-5"><use href="#wR" x="292" y="2453.5"/></g>
<g id="n48-5"><use href="#wL" x="292" y="2505.5"/></g>
<g id="n49-5"><use href="#wR" x="292" y="2557.5"/></g>
<g id="n50-5"><use href="#wL" x="292" y="2609.5"/></g>
<g id="n51-5"><use href="#wR" x="292" y="2661.5"/></g>
<g id="n52-5"><use href="#wL" x="292" y="2713.5"/></g>
<g id="n53-5"><use href="#wR" x="292" y="2765.5"/></g>
<g id="n54-5"><use href="#wL" x="292" y="2817.5"/></g>
<g id="n55-5"><use href="#wR" x="292" y="2869.5"/></g>
<g id="n56-5"><use href="#wL" x="292" y="2921.5"/></g>
<g id="n57-5"><use href="#wR" x="292" y="2973.5"/></g>
<g id="n58-5"><use href="#wL" x="292" y="3025.5"/></g>
<g id="n59-5"><use href="#wR" x="292" y="3077.5"/></g>
<g id="n60-5"><use href="#wL" x="292" y="3129.5"/></g>
<g transform="translate(0,3181.5)"><g id="n61-5"><use href="#wR" x="292"/></g><g id="n61-6"><use href="#wR" x="344"/></g><g id="n61-7"><use href="#wR" x="396"/></g><g id="n61-8"><use href="#wR" x="448"/></g></g>
<g id="n62-5"><use href="#wL" x="292" y="3233.5"/></g>
<g id="n63-5"><use href="#wR" x="292" y="3285.5"/></g>
</g>
<text x="292" y="1860.5" text-anchor="middle" font-family="Liberation Sans, Arial, sans-serif" font-size="14" font-weight="bold" fill="#3a3a3a" stroke="#fff" stroke-width="0.8" paint-order="stroke">BRACELETBOOK.COM</text>
</svg>
